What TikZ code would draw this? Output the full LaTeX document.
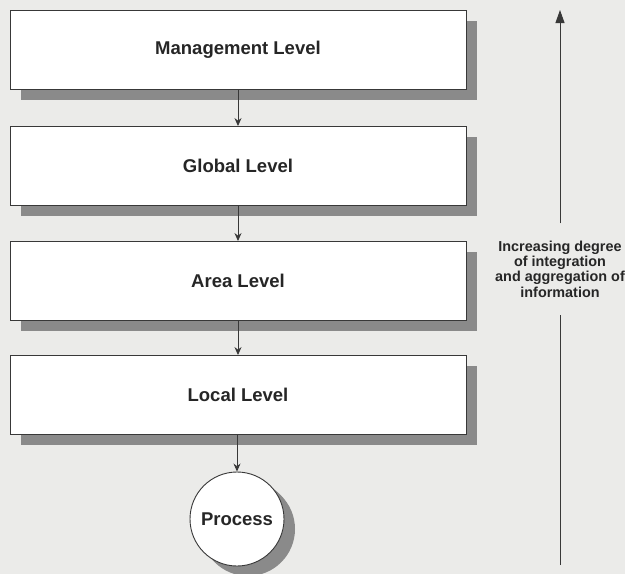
\documentclass[tikz,border=0pt]{standalone}
\usepackage{fontspec}
\setmainfont{Liberation Sans}
\usetikzlibrary{arrows.meta,shadows}
\definecolor{pagegray}{HTML}{EBEBE9}
\definecolor{shadowgray}{HTML}{8A8A8A}
\definecolor{linegray}{HTML}{383838}
\definecolor{inkgray}{HTML}{262626}
\tikzstyle{Level}=[draw=linegray, line width=0.9pt, fill=white, text=inkgray,
  minimum width=456pt, minimum height=79pt, inner sep=0pt,
  font=\fontsize{18.5}{22}\selectfont\bfseries,
  drop shadow={shadow xshift=11pt, shadow yshift=-10pt, fill=shadowgray, opacity=1}]
\tikzstyle{Process}=[Level, circle, minimum width=94pt, minimum height=94pt,
  drop shadow={shadow xshift=9pt, shadow yshift=-8pt, fill=shadowgray, opacity=1}]
\tikzstyle{Arrow}=[-{Stealth[length=8pt,width=7pt]}, draw=linegray, line width=0.9pt]
\tikzstyle{BigArrow}=[-{Triangle[length=13pt,width=9pt]}, draw=linegray, line width=0.9pt]

\begin{document}
\begin{tikzpicture}[x=1pt,y=-1pt]

\fill[pagegray] (0,0) rectangle (625,574);
\useasboundingbox (0,0) rectangle (625,574);

\node[Level] (management) at (238,50) {Management Level};
\node[Level] (global) at (238,166) {Global Level};
\node[Level] (area) at (238,281) {Area Level};
\node[Level] (local) at (238,395) {Local Level};
\node[Process] (process) at (237,519) {Process};

\draw[Arrow] (management) -- (global);
\draw[Arrow] (global) -- (area);
\draw[Arrow] (area) -- (local);
\draw[Arrow] (local.south -| process) -- (process);

% direction of integration
\coordinate (base) at (560,565);
\coordinate (tip) at (560,10);
\node[align=center, text=inkgray, inner xsep=0pt, inner ysep=17pt,
  font=\fontsize{14.4}{15.4}\selectfont\bfseries] (info) at (560,269)
  {Increasing degree\\of integration\\and aggregation of\\information};
\draw[draw=linegray, line width=0.9pt] (base) -- (info.south);
\draw[BigArrow] (info.north) -- (tip);

\end{tikzpicture}
\end{document}
